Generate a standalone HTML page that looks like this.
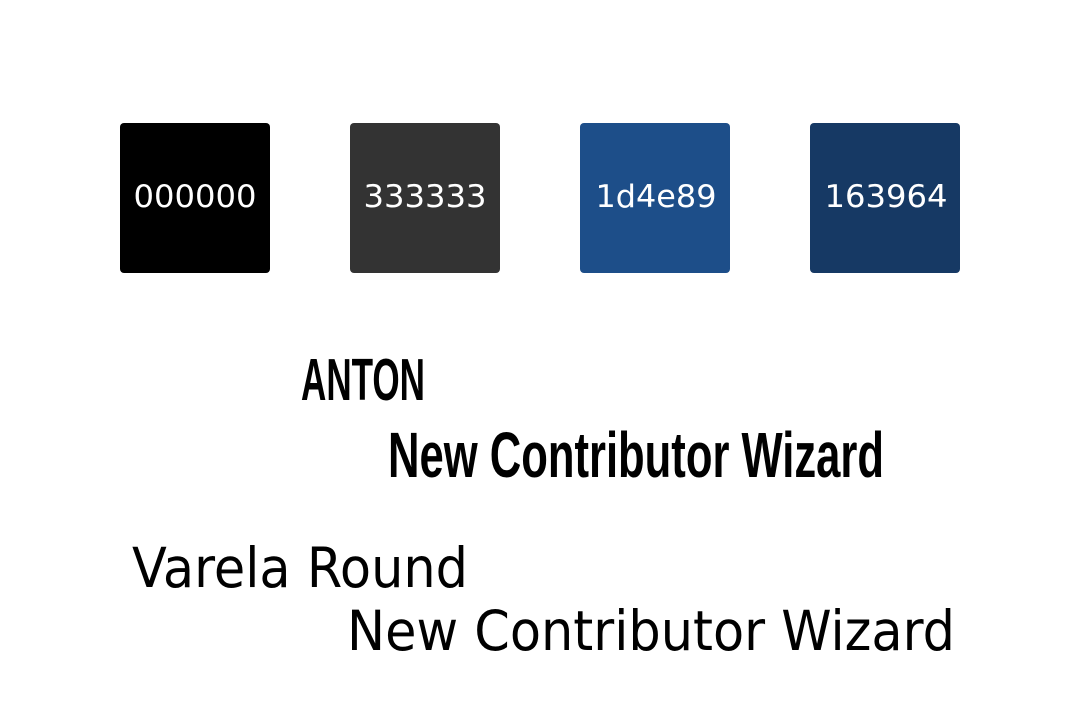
<!DOCTYPE html>
<html><head><meta charset="utf-8"><style>
html,body{margin:0;padding:0;background:#fff;}
svg{display:block;}
</style></head><body>
<svg width="1080" height="723" viewBox="0 0 1080 723">
<rect width="1080" height="723" fill="#fff"/>
<g>
<rect x="120" y="123" width="150" height="150" rx="4" fill="#000000"/>
<text x="195" y="207" font-family="DejaVu Sans, sans-serif" font-size="31" fill="#fff" text-anchor="middle" textLength="123" lengthAdjust="spacingAndGlyphs">000000</text>
</g>
<g>
<rect x="350" y="123" width="150" height="150" rx="4" fill="#333333"/>
<text x="425" y="207" font-family="DejaVu Sans, sans-serif" font-size="31" fill="#fff" text-anchor="middle" textLength="123" lengthAdjust="spacingAndGlyphs">333333</text>
</g>
<g>
<rect x="580" y="123" width="150" height="150" rx="4" fill="#1d4e89"/>
<text x="656" y="207" font-family="DejaVu Sans, sans-serif" font-size="31" fill="#fff" text-anchor="middle" textLength="121" lengthAdjust="spacingAndGlyphs">1d4e89</text>
</g>
<g>
<rect x="810" y="123" width="150" height="150" rx="4" fill="#163964"/>
<text x="886" y="207" font-family="DejaVu Sans, sans-serif" font-size="31" fill="#fff" text-anchor="middle" textLength="123" lengthAdjust="spacingAndGlyphs">163964</text>
</g>
<text x="301" y="400" font-family="Liberation Sans Narrow, Liberation Sans, sans-serif" font-weight="bold" font-size="59" fill="#000" textLength="124" lengthAdjust="spacingAndGlyphs">ANTON</text>
<text x="388" y="477" font-family="Liberation Sans Narrow, Liberation Sans, sans-serif" font-weight="bold" font-size="64" fill="#000" textLength="496" lengthAdjust="spacingAndGlyphs">New Contributor Wizard</text>
<text x="132" y="587" font-family="DejaVu Sans, sans-serif" font-size="55" fill="#000" textLength="336" lengthAdjust="spacingAndGlyphs">Varela Round</text>
<text x="347" y="650" font-family="DejaVu Sans, sans-serif" font-size="55" fill="#000" textLength="608" lengthAdjust="spacingAndGlyphs">New Contributor Wizard</text>
</svg>
</body></html>
